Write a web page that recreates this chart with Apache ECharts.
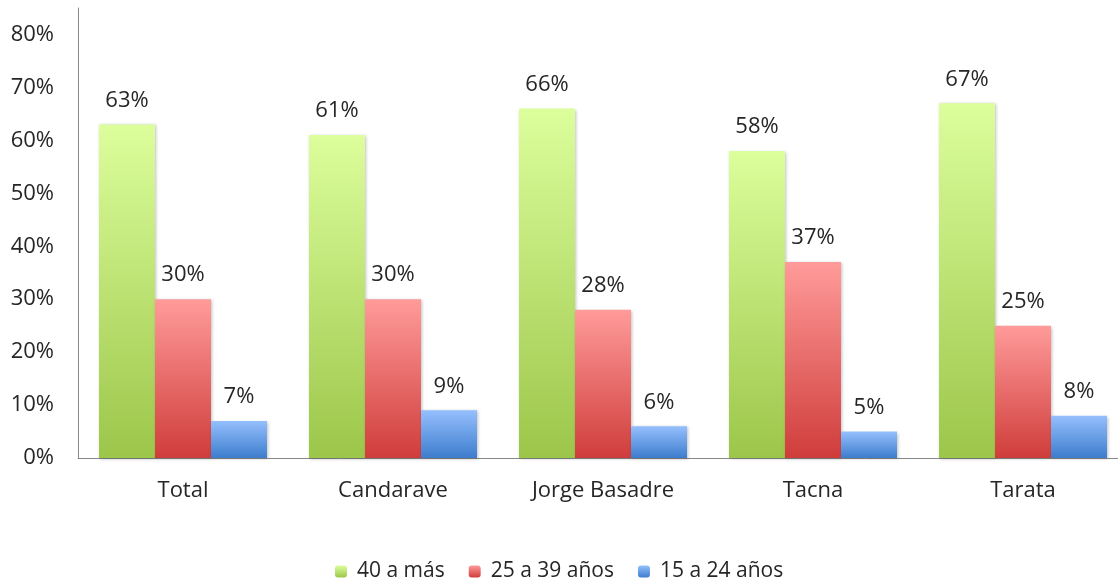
<!DOCTYPE html>
<html>
<head>
<meta charset="utf-8">
<script src="https://cdn.jsdelivr.net/npm/echarts@6/dist/echarts.min.js"></script>
<style>
  html, body { margin: 0; padding: 0; background: #fff; overflow: hidden; }
  /* a bit wider than the window: the plot area runs past the right edge */
  #chart { width: 1128px; height: 580px; }
</style>
</head>
<body>
<div id="chart"></div>
<script>
const categories = ['Total', 'Candarave', 'Jorge Basadre', 'Tacna', 'Tarata'];
const seriesNames = ['40 a más', '25 a 39 años', '15 a 24 años'];
const mas40 = [63, 61, 66, 58, 67];
const de25a39 = [30, 30, 28, 37, 25];
const de15a24 = [7, 9, 6, 5, 8];

const gradient = (top, bottom) =>
  new echarts.graphic.LinearGradient(0, 0, 0, 1, [
    { offset: 0, color: top },
    { offset: 1, color: bottom },
  ]);

const fontFamily = '"Open Sans", "Liberation Sans", sans-serif';

const makeSeries = (name, data, top, bottom) => ({
  name,
  type: 'bar',
  data,
  barGap: '0%',
  barCategoryGap: '20%',
  itemStyle: {
    color: gradient(top, bottom),
    shadowColor: 'rgba(0,0,0,0.25)',
    shadowBlur: 3,
    shadowOffsetX: 1,
    shadowOffsetY: 1,
  },
  label: {
    show: true,
    position: 'top',
    distance: 13,
    formatter: '{c}%',
    color: '#262626',
    fontSize: 22,
    fontFamily,
  },
});

const chart = echarts.init(document.getElementById('chart'));
chart.setOption({
  animation: false,
  grid: { left: 78, right: 0, top: 8, bottom: 122 },
  legend: {
    data: seriesNames,
    top: 556,
    left: 330,
    itemWidth: 12,
    itemHeight: 12,
    itemGap: 24,
    textStyle: { color: '#262626', fontSize: 21, fontFamily, padding: [0, 0, 0, 5] },
  },
  xAxis: {
    type: 'category',
    data: categories,
    axisLine: { lineStyle: { color: '#888', width: 1 } },
    axisTick: { show: false },
    axisLabel: { color: '#262626', fontSize: 22, fontFamily, margin: 22 },
  },
  yAxis: {
    type: 'value',
    min: 0,
    max: 85,
    interval: 10,
    axisLine: { show: true, lineStyle: { color: '#888', width: 1 } },
    axisTick: { show: false },
    splitLine: { show: false },
    axisLabel: {
      color: '#262626',
      fontSize: 22,
      fontFamily,
      margin: 24,
      formatter: (v) => (v > 80 ? '' : v + '%'),
    },
  },
  series: [
    makeSeries(seriesNames[0], mas40, '#dcfe9c', '#9cc64a'),
    makeSeries(seriesNames[1], de25a39, '#ff9b9a', '#cf3d3b'),
    makeSeries(seriesNames[2], de15a24, '#95bffd', '#3d7dcd'),
  ],
});
</script>
</body>
</html>
